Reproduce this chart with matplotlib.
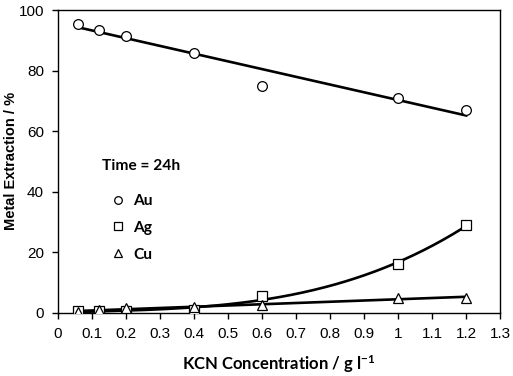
import numpy as np
import matplotlib
matplotlib.use("Agg")
import matplotlib.pyplot as plt
from matplotlib.lines import Line2D

plt.rcParams["mathtext.fontset"] = "custom"
plt.rcParams["mathtext.rm"] = "Lato:bold"
plt.rcParams["mathtext.default"] = "rm"

kcn = [0.06, 0.12, 0.2, 0.4, 0.6, 1.0, 1.2]
au = [95.5, 93.5, 91.5, 86.0, 75.0, 71.0, 67.0]
ag = [0.5, 0.5, 0.5, 1.0, 5.5, 16.0, 29.0]
cu = [0.3, 1.0, 1.5, 2.0, 2.5, 5.0, 5.0]
x_ticks = [0, 0.1, 0.2, 0.3, 0.4, 0.5, 0.6, 0.7, 0.8, 0.9, 1, 1.1, 1.2, 1.3]
x_tick_labels = ["0", "0.1", "0.2", "0.3", "0.4", "0.5", "0.6", "0.7", "0.8", "0.9", "1", "1.1", "1.2", "1.3"]
y_ticks = [0, 20, 40, 60, 80, 100]

fig = plt.figure(figsize=(5.13, 3.76), dpi=100)
ax = fig.add_axes([0.113, 0.168, 0.862, 0.805])

xs = np.linspace(min(kcn), max(kcn), 200)
fits = [(au, 1), (ag, 3), (cu, 1)]
for vals, deg in fits:
    c = np.polyfit(kcn, vals, deg)
    ax.plot(xs, np.polyval(c, xs), color="black", lw=1.9, zorder=2)

mk = dict(mfc="white", mec="black", mew=0.9, ms=7, ls="none", zorder=3)
ax.plot(kcn, au, marker="o", **mk)
ax.plot(kcn, ag, marker="s", **mk)
ax.plot(kcn, cu, marker="^", **mk)

ax.set_xlim(0, 1.3)
ax.set_ylim(0, 100)
ax.set_xticks(x_ticks)
ax.set_xticklabels(x_tick_labels)
ax.set_yticks(y_ticks)
ax.tick_params(direction="out", length=4, width=1, labelsize=11, pad=6)
for lab in ax.get_xticklabels() + ax.get_yticklabels():
    lab.set_fontfamily("Liberation Sans")
for s in ax.spines.values():
    s.set_linewidth(1)

ax.set_xlabel("KCN Concentration / g l$^{-1}$", fontsize=12, fontweight="bold",
              fontfamily="Lato")
ax.xaxis.set_label_coords(0.5, -0.135)
ax.set_ylabel("Metal Extraction / %", fontsize=10.5, fontweight="bold",
              fontfamily="Liberation Sans")
ax.yaxis.set_label_coords(-0.09, 0.503)

ax.text(0.0995, 0.485, "Time = 24h", transform=ax.transAxes, ha="left", va="center",
        fontsize=11.2, fontweight="bold", fontfamily="Lato")

handles = [Line2D([], [], marker=m, mfc="white", mec="black", mew=0.9, ms=5.5, ls="none")
           for m in ["o", "s", "^"]]
leg = ax.legend(handles, ["Au", "Ag", "Cu"], loc="upper left",
                bbox_to_anchor=(0.115, 0.392), frameon=False, borderpad=0, borderaxespad=0,
                prop={"family": "Lato", "weight": "bold", "size": 11.2},
                labelspacing=0.82, handletextpad=0.35, handlelength=1.2)

fig.savefig("out.png", dpi=100)
